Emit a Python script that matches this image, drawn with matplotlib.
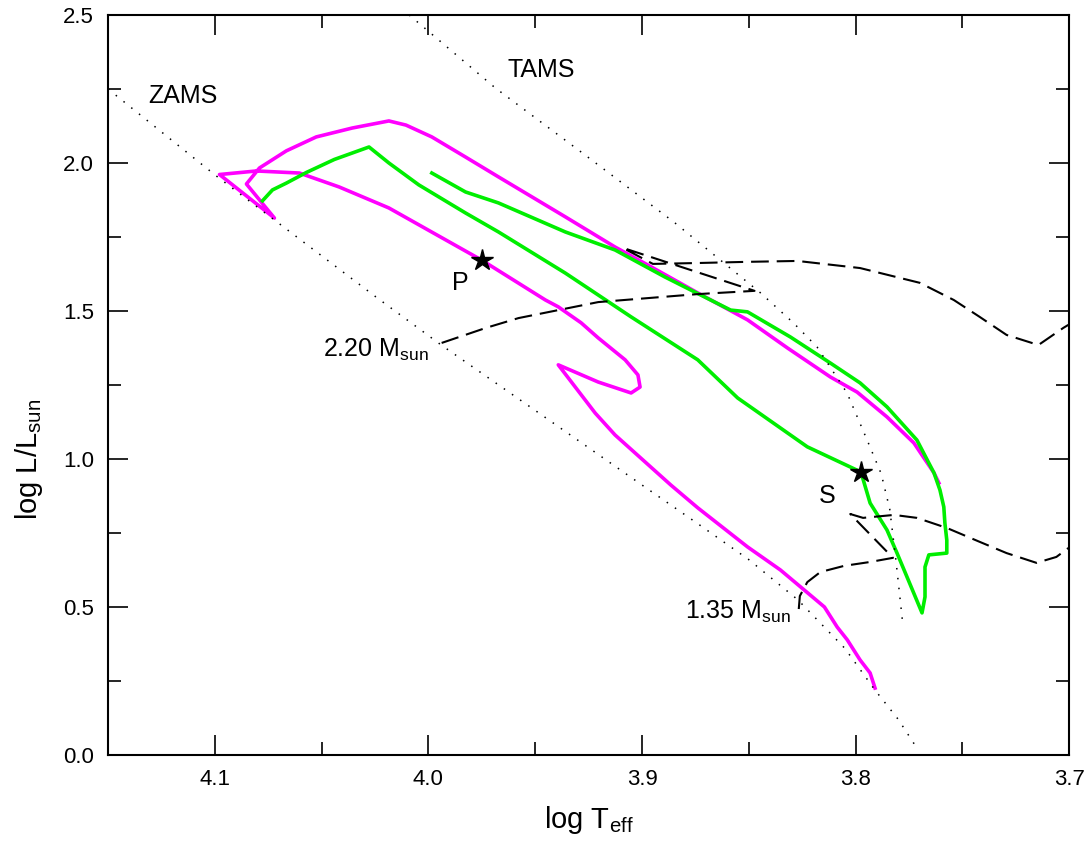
import matplotlib
matplotlib.use("Agg")
import matplotlib.pyplot as plt
from matplotlib.ticker import MultipleLocator

plt.rcParams["font.family"] = ["Liberation Sans", "DejaVu Sans"]
plt.rcParams["mathtext.fontset"] = "custom"
plt.rcParams["mathtext.rm"] = "Liberation Sans"

# ZAMS and TAMS lines
zams_logt = [4.15, 4.10, 4.0245, 3.994, 3.95, 3.90, 3.875, 3.85, 3.827, 3.805, 3.791, 3.78, 3.771]
zams_logl = [2.25, 1.96, 1.547, 1.385, 1.164, 0.912, 0.787, 0.66, 0.524, 0.36, 0.22, 0.12, 0.02]
tams_logt = [4.009, 3.9686, 3.9285, 3.885, 3.8445, 3.829, 3.818, 3.804, 3.7946, 3.788, 3.784, 3.781, 3.778]
tams_logl = [2.5, 2.253, 2.037, 1.80, 1.561, 1.459, 1.378, 1.223, 1.064, 0.95, 0.83, 0.65, 0.449]

# single star tracks
m220_logt = [3.9938, 3.973, 3.9578, 3.9205, 3.8739, 3.8473, 3.9089, 3.8949, 3.8739, 3.8506,
             3.8272, 3.7979, 3.7699, 3.754, 3.7419, 3.7293, 3.7144, 3.7027, 3.7004]
m220_logl = [1.392, 1.443, 1.476, 1.530, 1.557, 1.568, 1.713, 1.659, 1.662, 1.666,
             1.669, 1.645, 1.595, 1.537, 1.480, 1.419, 1.385, 1.443, 1.453]
m135_logt = [3.8266, 3.8261, 3.8226, 3.8165, 3.8053, 3.7932, 3.7825, 3.8025, 3.7965, 3.782,
             3.7713, 3.7573, 3.7419, 3.7293, 3.7153, 3.706, 3.7004]
m135_logl = [0.493, 0.537, 0.584, 0.618, 0.639, 0.652, 0.666, 0.814, 0.801, 0.811,
             0.801, 0.767, 0.720, 0.682, 0.649, 0.669, 0.699]

# primary (P)
prim_logt = [3.7909, 3.7932, 3.7979, 3.8039, 3.8086, 3.8146, 3.8258, 3.8352, 3.8506, 3.8739,
             3.8865, 3.9126, 3.9219, 3.9392, 3.9205, 3.9051, 3.9009, 3.9019, 3.9079, 3.9205,
             3.9285, 3.9392, 3.9452, 3.9751, 4.0185, 4.0418, 4.0604, 4.0805, 4.0978, 4.0721,
             4.0852, 4.0791, 4.0665, 4.0525, 4.0357, 4.0185, 4.0105, 3.9984, 3.9826, 3.9672,
             3.9359, 3.9126, 3.8972, 3.8739, 3.8506, 3.8319, 3.8118, 3.7993, 3.7853,
             3.7727, 3.7633, 3.761]
prim_logl = [0.226, 0.277, 0.321, 0.389, 0.432, 0.500, 0.568, 0.625, 0.703, 0.835,
             0.912, 1.081, 1.155, 1.318, 1.260, 1.223, 1.243, 1.284, 1.335, 1.409,
             1.460, 1.514, 1.537, 1.672, 1.848, 1.919, 1.966, 1.973, 1.961, 1.814,
             1.929, 1.983, 2.041, 2.088, 2.118, 2.142, 2.128, 2.088, 2.020, 1.953,
             1.818, 1.716, 1.655, 1.561, 1.470, 1.375, 1.277, 1.226, 1.142,
             1.054, 0.953, 0.919]

# secondary (S)
sec_logt = [4.0777, 4.073, 4.0665, 4.0571, 4.0440, 4.0278, 4.0185, 4.0045, 3.9826, 3.9672,
            3.9359, 3.9051, 3.8739, 3.8552, 3.8226, 3.7975, 3.7932, 3.7853, 3.7806, 3.7759,
            3.7689, 3.7675, 3.7675, 3.7657, 3.7573, 3.7573, 3.7582, 3.7587, 3.7605, 3.7633,
            3.7713, 3.7853, 3.7979, 3.8118, 3.8305, 3.8506, 3.8585, 3.8893, 3.9126, 3.9359,
            3.9672, 3.9826, 3.9984]
sec_logl = [1.872, 1.909, 1.932, 1.968, 2.012, 2.054, 2.000, 1.926, 1.831, 1.767,
            1.628, 1.480, 1.335, 1.206, 1.041, 0.956, 0.851, 0.760, 0.682, 0.601,
            0.480, 0.534, 0.635, 0.676, 0.682, 0.726, 0.784, 0.838, 0.895, 0.953,
            1.064, 1.176, 1.257, 1.324, 1.412, 1.497, 1.503, 1.615, 1.706, 1.767,
            1.865, 1.902, 1.966]

star_logt = [3.9747, 3.7975]
star_logl = [1.672, 0.956]

fig = plt.figure(figsize=(10.91, 8.46), dpi=100)
ax = fig.add_axes([0.099, 0.1076, 0.881, 0.8747])

dotted = (0, (1, 5.5))
dashed = (0, (8.5, 3.8))
ax.plot(prim_logt, prim_logl, color="#ff00ff", lw=2.6, zorder=2)
ax.plot(sec_logt, sec_logl, color="#00ee00", lw=2.6, zorder=3)
ax.plot(zams_logt, zams_logl, color="black", lw=1.1, ls=dotted, zorder=4)
ax.plot(tams_logt, tams_logl, color="black", lw=1.1, ls=dotted, zorder=4)
ax.plot(m220_logt, m220_logl, color="black", lw=1.5, ls=dashed, zorder=4)
ax.plot(m135_logt, m135_logl, color="black", lw=1.5, ls=dashed, zorder=4)
ax.plot(star_logt, star_logl, "*", color="black", ms=16, zorder=5)

ax.text(4.115, 2.226, "ZAMS", fontsize=18, ha="center", va="center")
ax.text(3.947, 2.314, "TAMS", fontsize=18, ha="center", va="center")
ax.text(3.985, 1.595, "P", fontsize=18, ha="center", va="center")
ax.text(3.8132, 0.875, "S", fontsize=18, ha="center", va="center")
ax.text(4.0, 1.37, r"2.20 M$_\mathregular{sun}$", fontsize=18, ha="right", va="center")
ax.text(3.8305, 0.485, r"1.35 M$_\mathregular{sun}$", fontsize=18, ha="right", va="center")

ax.set_xlim(4.15, 3.7)
ax.set_ylim(0.0, 2.5)
ax.xaxis.set_major_locator(MultipleLocator(0.1))
ax.xaxis.set_minor_locator(MultipleLocator(0.05))
ax.yaxis.set_major_locator(MultipleLocator(0.5))
ax.yaxis.set_minor_locator(MultipleLocator(0.25))
ax.xaxis.set_major_formatter(plt.FormatStrFormatter("%.1f"))
ax.yaxis.set_major_formatter(plt.FormatStrFormatter("%.1f"))
ax.tick_params(which="both", direction="in", top=True, right=True, width=1.2, labelsize=16, pad=10)
ax.tick_params(which="major", length=14.5)
ax.tick_params(which="minor", length=9.5)
for s in ax.spines.values():
    s.set_linewidth(1.5)

ax.set_xlabel(r"log T$_\mathregular{eff}$", fontsize=21, labelpad=10)
ax.set_ylabel(r"log L/L$_\mathregular{sun}$", fontsize=21, labelpad=10)
ax.yaxis.set_label_coords(-0.066, 0.40)

fig.savefig("out.png", dpi=100)
